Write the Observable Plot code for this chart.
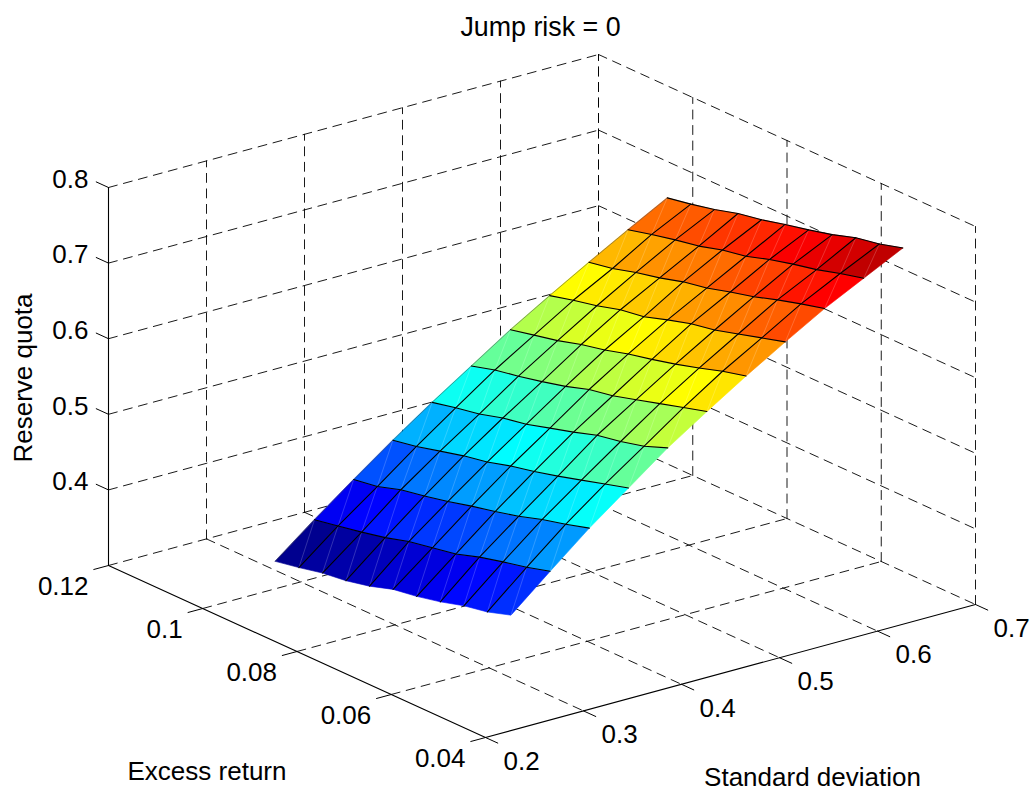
<!DOCTYPE html>
<html>
<head>
<meta charset="utf-8">
<style>html,body{margin:0;padding:0;background:#fff}svg{display:block}</style>
<script src="https://cdn.jsdelivr.net/npm/d3@7"></script>
<script src="https://cdn.jsdelivr.net/npm/@observablehq/plot@0.6"></script>
</head>
<body>
<div id="chart"></div>
<script>
// ---- data ----
const chartTitle = "Jump risk = 0";
const xLabel = "Standard deviation";
const yLabel = "Excess return";
const zLabel = "Reserve quota";
const stdTicks = [0.2, 0.3, 0.4, 0.5, 0.6, 0.7];
const excessTicks = [0.12, 0.1, 0.08, 0.06, 0.04];
const quotaTicks = [0.4, 0.5, 0.6, 0.7, 0.8];
const stdValues = [0.25, 0.29, 0.33, 0.37, 0.41, 0.45, 0.49, 0.53, 0.57, 0.61, 0.65];
const excessValues = [0.095, 0.09, 0.085, 0.08, 0.075, 0.07, 0.065, 0.06, 0.055, 0.05, 0.045];
// one row per standard deviation, one column per excess return
const quota = [
  [.359,.365,.372,.376,.383,.393,.398,.405,.414,.420,.430],
  [.400,.406,.412,.419,.428,.434,.440,.450,.458,.465,.474],
  [.439,.444,.454,.460,.467,.475,.482,.490,.500,.508,.517],
  [.477,.483,.491,.499,.505,.514,.521,.529,.538,.547,.556],
  [.513,.520,.526,.535,.541,.550,.559,.569,.575,.583,.595],
  [.547,.556,.562,.569,.577,.587,.593,.602,.611,.620,.629],
  [.581,.588,.595,.604,.611,.620,.627,.635,.644,.654,.662],
  [.612,.620,.627,.636,.641,.651,.660,.666,.675,.684,.693],
  [.642,.648,.657,.664,.673,.679,.688,.696,.706,.715,.723],
  [.671,.679,.686,.692,.701,.707,.717,.725,.732,.741,.749],
  [.699,.705,.712,.721,.727,.735,.742,.750,.760,.766,.775]
];
const jetColors = ["#000080", "#0000ff", "#00ffff", "#ffff00", "#ff0000", "#800000"];
const jetStops = [0, 0.125, 0.375, 0.625, 0.875, 1];

// ---- 3-D view: axonometric projection of the data box ----
const S0 = 0.2, S1 = 0.7, E0 = 0.12, E1 = 0.04, Z0 = 0.3, Z1 = 0.8;
const view = {ox: 108, oy: 565, sx: 490, sy: -133, ex: 377, ey: 172, zy: -378};
function project(s, e, q) {
  const a = (s - S0) / (S1 - S0), b = (e - E0) / (E1 - E0), c = (q - Z0) / (Z1 - Z0);
  return {px: view.ox + a * view.sx + b * view.ex, py: view.oy + a * view.sy + b * view.ey + c * view.zy};
}
const node = (r, c) => project(stdValues[r], excessValues[c], quota[r][c]);

// ---- polylines built from the values ----
function polyline(list, id, pts) { pts.forEach(p => list.push({id, ...p})); }

const solid = [], dashed = [], ticks = [];
polyline(solid, "zaxis", [project(S0, E0, Z0), project(S0, E0, Z1)]);
polyline(solid, "eaxis", [project(S0, E0, Z0), project(S0, E1, Z0)]);
polyline(solid, "saxis", [project(S0, E1, Z0), project(S1, E1, Z0)]);

// floor
stdTicks.slice(1).forEach(s => polyline(dashed, "fs" + s, [project(s, E0, Z0), project(s, E1, Z0)]));
excessTicks.slice(0, -1).forEach(e => polyline(dashed, "fe" + e, [project(S0, e, Z0), project(S1, e, Z0)]));
// left wall (excess return = 0.12)
stdTicks.slice(1).forEach(s => polyline(dashed, "ls" + s, [project(s, E0, Z0), project(s, E0, Z1)]));
quotaTicks.forEach(q => polyline(dashed, "lq" + q, [project(S0, E0, q), project(S1, E0, q)]));
// right wall (standard deviation = 0.7)
excessTicks.forEach(e => polyline(dashed, "re" + e, [project(S1, e, Z0), project(S1, e, Z1)]));
quotaTicks.forEach(q => polyline(dashed, "rq" + q, [project(S1, E0, q), project(S1, E1, q)]));

// tick marks, along the directions of the box
quotaTicks.forEach(q => polyline(ticks, "tq" + q, [project(S0, E0, q), project(S0, E0 + 0.0026, q)]));
excessTicks.forEach(e => polyline(ticks, "te" + e, [project(S0, e, Z0), project(S0 - 0.015, e, Z0)]));
stdTicks.forEach(s => polyline(ticks, "ts" + s, [project(s, E1, Z0), project(s, E1 - 0.0026, Z0)]));

// surface patches: the colour of a patch comes from one of its corners
const patches = [], rowLines = [], colLines = [], edgeLine = [], diagonals = [];
for (let r = 0; r < stdValues.length - 1; r++) {
  for (let c = 0; c < excessValues.length - 1; c++) {
    const v = quota[r][c + 1];
    [node(r, c), node(r, c + 1), node(r + 1, c + 1), node(r + 1, c)]
      .forEach(p => patches.push({id: r + "-" + c, v, ...p}));
    polyline(diagonals, "d" + r + "-" + c, [node(r, c + 1), node(r + 1, c)]);
  }
}
for (let r = 1; r < stdValues.length; r++)
  polyline(rowLines, "r" + r, excessValues.map((_, c) => node(r, c)));
for (let c = 1; c < excessValues.length - 1; c++)
  polyline(colLines, "c" + c, stdValues.map((_, r) => node(r, c)));
polyline(edgeLine, "c0", stdValues.map((_, r) => node(r, 0)));

const qMin = d3.min(quota.flat()), qMax = d3.max(quota.flat());

const font = "'Liberation Sans', Arial, sans-serif";
const label = {x: "px", y: "py", text: "t", fontSize: 26, fontFamily: font, fill: "#000", lineAnchor: "middle"};

const chart = Plot.plot({
  width: 1033,
  height: 791,
  margin: 0,
  style: {background: "#fff", overflow: "hidden"},
  x: {domain: [0, 1033], range: [0, 1033], axis: null},
  y: {domain: [0, 791], range: [0, 791], axis: null},
  color: {type: "linear", domain: jetStops.map(t => qMin + t * (qMax - qMin)), range: jetColors, legend: false},
  marks: [
    Plot.line(dashed, {x: "px", y: "py", z: "id", stroke: "#000", strokeWidth: 0.9, strokeDasharray: "9,6.5"}),
    Plot.line(ticks, {x: "px", y: "py", z: "id", stroke: "#000", strokeWidth: 1}),
    Plot.line(solid, {x: "px", y: "py", z: "id", stroke: "#000", strokeWidth: 1.1}),
    Plot.line(patches, {x: "px", y: "py", z: "id", fill: "v", stroke: "v", strokeWidth: 0.6, curve: "linear-closed"}),
    Plot.line(diagonals, {x: "px", y: "py", z: "id", stroke: "#fff", strokeOpacity: 0.28, strokeWidth: 0.7}),
    Plot.line(edgeLine, {x: "px", y: "py", z: "id", stroke: "#000", strokeOpacity: 0.55, strokeWidth: 0.7}),
    Plot.line(colLines, {x: "px", y: "py", z: "id", stroke: "#000", strokeWidth: 1.1}),
    Plot.line(rowLines, {x: "px", y: "py", z: "id", stroke: "#000", strokeWidth: 1.1}),
    Plot.text(quotaTicks.map(q => ({t: String(q), ...project(S0, E0, q)})),
      {...label, textAnchor: "end", dx: -20, dy: -8}),
    Plot.text(excessTicks.map(e => ({t: String(e), ...project(S0, e, Z0)})),
      {...label, textAnchor: "end", dx: -20, dy: 21}),
    Plot.text(stdTicks.map(s => ({t: String(s), ...project(s, E1, Z0)})),
      {...label, textAnchor: "start", dx: 18, dy: 24}),
    Plot.text([{t: chartTitle, ...project(S0, E0, Z1)}],
      {...label, fontSize: 26.8, textAnchor: "middle", dx: 432, dy: -160.5}),
    Plot.text([{t: yLabel, ...project(S0, (E0 + E1) / 2, Z0)}],
      {...label, textAnchor: "middle", dx: -90, dy: 120}),
    Plot.text([{t: xLabel, ...project((S0 + S1) / 2, E1, Z0)}],
      {...label, textAnchor: "middle", dx: 82, dy: 107}),
    Plot.text([{t: zLabel, ...project(S0, E0, (Z0 + Z1) / 2)}],
      {...label, textAnchor: "middle", rotate: -90, dx: -85, dy: 1.5})
  ]
});
document.getElementById("chart").appendChild(chart);
</script>
</body>
</html>
